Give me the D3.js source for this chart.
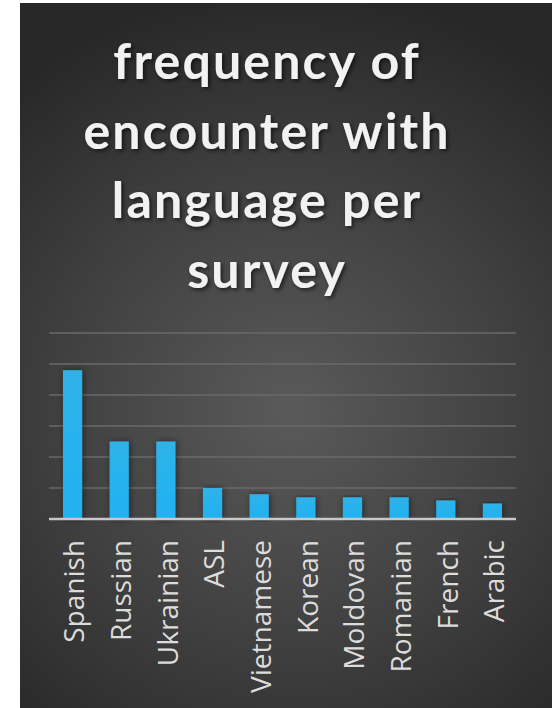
<!DOCTYPE html>
<html>
<head>
<meta charset="utf-8">
<script src="https://cdn.jsdelivr.net/npm/d3@7"></script>
<style>
  body { margin: 0; background: #fff; }
  svg { display: block; }
</style>
</head>
<body>
<div id="chart"></div>
<script>
var titleLines = ['frequency of', 'encounter with', 'language per', 'survey'];
var languages = ['Spanish', 'Russian', 'Ukrainian', 'ASL', 'Vietnamese', 'Korean', 'Moldovan', 'Romanian', 'French', 'Arabic'];
var counts = [48, 25, 25, 10, 8, 7, 7, 7, 6, 5];
var yTicks = [0, 10, 20, 30, 40, 50, 60];

var size = { width: 557, height: 708 };
var panel = { left: 20, top: 3, right: 552, bottom: 708 };
var plot = { left: 49, right: 516, top: 333, bottom: 519 };

var svg = d3.select('#chart').append('svg')
  .attr('width', size.width)
  .attr('height', size.height);

var defs = svg.append('defs');

var bg = defs.append('radialGradient')
  .attr('id', 'bg')
  .attr('gradientUnits', 'userSpaceOnUse')
  .attr('cx', 290).attr('cy', 410).attr('r', 420);
bg.append('stop').attr('offset', '0%').attr('stop-color', '#5a5a5a');
bg.append('stop').attr('offset', '55%').attr('stop-color', '#404040');
bg.append('stop').attr('offset', '100%').attr('stop-color', '#282828');

var barFill = defs.append('linearGradient')
  .attr('id', 'barFill')
  .attr('x1', 0).attr('x2', 0).attr('y1', 0).attr('y2', 1);
barFill.append('stop').attr('offset', '0%').attr('stop-color', '#2fb2e8');
barFill.append('stop').attr('offset', '100%').attr('stop-color', '#1fb2f2');

var shadow = defs.append('filter').attr('id', 'shadow')
  .attr('x', '-20%').attr('y', '-20%').attr('width', '140%').attr('height', '140%');
shadow.append('feDropShadow')
  .attr('dx', 2).attr('dy', 2).attr('stdDeviation', 2)
  .attr('flood-color', '#000').attr('flood-opacity', 0.6);

var barShadow = defs.append('filter').attr('id', 'barShadow')
  .attr('x', '-50%').attr('y', '-10%').attr('width', '200%').attr('height', '120%');
barShadow.append('feDropShadow')
  .attr('dx', 1).attr('dy', 0).attr('stdDeviation', 3)
  .attr('flood-color', '#000').attr('flood-opacity', 0.5);

svg.append('rect')
  .attr('x', panel.left).attr('y', panel.top)
  .attr('width', panel.right - panel.left)
  .attr('height', panel.bottom - panel.top)
  .attr('fill', 'url(#bg)');

// title
var title = svg.append('g').attr('class', 'title');
var titleTarget = 365; // pixel width of the longest line
var titleText = title.selectAll('text')
  .data(titleLines)
  .enter().append('text')
  .attr('x', 266)
  .attr('y', (d, i) => 79 + i * 69.5)
  .attr('text-anchor', 'middle')
  .attr('fill', '#f2f2f2')
  .attr('filter', 'url(#shadow)')
  .style('font-family', 'Lato, "Open Sans", sans-serif')
  .style('font-weight', 'bold')
  .style('font-size', '50px')
  .text(d => d);

var natural = titleText.nodes()[1].getComputedTextLength();
var spacing = (titleTarget - natural) / (titleLines[1].length - 1);
titleText.style('letter-spacing', spacing + 'px')
  .attr('dx', spacing / 2);

// scales
var x = d3.scaleBand()
  .domain(languages)
  .range([plot.left, plot.right])
  .paddingInner(0.59)
  .paddingOuter(0.3);

var y = d3.scaleLinear()
  .domain([0, 60])
  .range([plot.bottom, plot.top]);

// gridlines
svg.append('g')
  .attr('class', 'grid')
  .selectAll('line')
  .data(yTicks.slice(1))
  .enter().append('line')
  .attr('x1', plot.left).attr('x2', plot.right)
  .attr('y1', d => y(d)).attr('y2', d => y(d))
  .attr('stroke', '#6a6a6a')
  .attr('stroke-width', 1.5);

var data = languages.map((name, i) => ({ name: name, value: counts[i] }));

svg.append('g')
  .selectAll('.bar')
  .data(data)
  .enter().append('rect')
  .attr('class', 'bar')
  .attr('x', d => x(d.name))
  .attr('y', d => y(d.value))
  .attr('width', x.bandwidth())
  .attr('height', d => y(0) - y(d.value))
  .attr('fill', 'url(#barFill)')
  .attr('filter', 'url(#barShadow)');

// baseline axis
var xAxis = d3.axisBottom(x).tickSize(0).tickPadding(0);
var axis = svg.append('g')
  .attr('class', 'axis x')
  .attr('transform', `translate(0, ${y(0)})`)
  .call(xAxis);

axis.select('.domain')
  .attr('stroke', '#c8c8c8')
  .attr('stroke-width', 2.5)
  .attr('d', `M${plot.left},0H${plot.right}`);

axis.selectAll('.tick text')
  .attr('fill', '#dcdcdc')
  .style('font-family', '"Open Sans", sans-serif')
  .style('font-size', '28px')
  .attr('text-anchor', 'end')
  .attr('transform', 'rotate(-90)')
  .attr('x', -21)
  .attr('y', 0)
  .attr('dy', '0.42em');
</script>
</body>
</html>
